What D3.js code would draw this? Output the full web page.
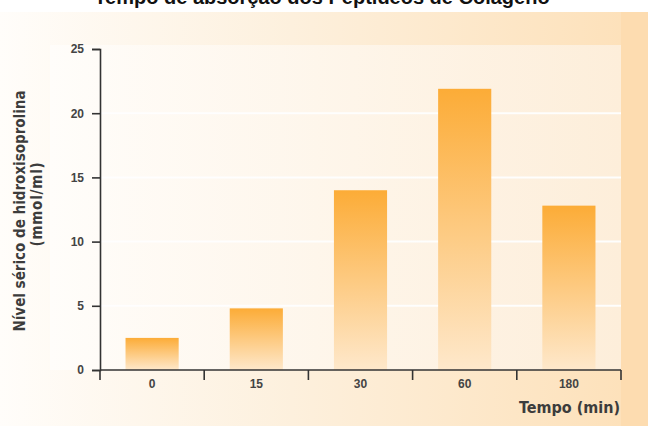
<!DOCTYPE html>
<html><head><meta charset="utf-8">
<script src="https://cdn.jsdelivr.net/npm/d3@7"></script>
<style>html,body{margin:0;padding:0;background:#fff;}svg{display:block;}</style>
</head><body>
<svg id="chart" width="648" height="426"></svg>
<script>
const categories = ["0", "15", "30", "60", "180"];
const values = [2.5, 4.8, 14.0, 21.9, 12.8];
const yTicks = [0, 5, 10, 15, 20, 25];
const gridValues = [5, 10, 15, 20];
const titleText = "Tempo de absorção dos Peptídeos de Colágeno";
const yLabel1 = "Nível sérico de hidroxisoprolina";
const yLabel2 = "(mmol/ml)";
const xLabel = "Tempo (min)";

(function(){
const W = 648, H = 426;
const pLeft = 100, pRight = 621, pTop = 49, pBottom = 370;
const svg = d3.select("#chart");
const defs = svg.append("defs");

const gOuter = defs.append("linearGradient").attr("id","gOuter").attr("x1","0").attr("x2","1").attr("y1","0").attr("y2","0");
gOuter.append("stop").attr("offset","0").attr("stop-color","#FFFDFA");
gOuter.append("stop").attr("offset","0.45").attr("stop-color","#FDF0DD");
gOuter.append("stop").attr("offset","1").attr("stop-color","#FDE0B8");
const gPanel = defs.append("linearGradient").attr("id","gPanel").attr("x1","0").attr("x2","1").attr("y1","0").attr("y2","0");
gPanel.append("stop").attr("offset","0").attr("stop-color","#FFFDFA");
gPanel.append("stop").attr("offset","1").attr("stop-color","#FDEEDA");
const gBar = defs.append("linearGradient").attr("id","gBar").attr("x1","0").attr("x2","0").attr("y1","0").attr("y2","1");
gBar.append("stop").attr("offset","0").attr("stop-color","#FCAC37");
gBar.append("stop").attr("offset","1").attr("stop-color","#FEE8CB");

// backgrounds
svg.append("rect").attr("x",0).attr("y",12).attr("width",W).attr("height",H-12).attr("fill","url(#gOuter)");
svg.append("rect").attr("x",621).attr("y",12).attr("width",W-621).attr("height",H-12).attr("fill","#FDDCB0");
svg.append("rect").attr("x",50).attr("y",45).attr("width",pRight-50).attr("height",pBottom-45).attr("fill","url(#gPanel)");

// title
svg.append("text").attr("x",322).attr("y",4).attr("text-anchor","middle")
  .attr("font-family","Liberation Sans, Arial, sans-serif").attr("font-weight","bold")
  .attr("font-size",20).attr("fill","#111").text(titleText);

const y = d3.scaleLinear().domain([0,25]).range([pBottom, pTop]);
const xSlot = d3.scaleBand().domain(categories).range([pLeft, pRight]).padding(0);
const xBar = d3.scaleBand().domain(categories).range([pLeft, pRight]).paddingInner(0.49).paddingOuter(0.245);

// grid
svg.append("g").selectAll("line").data(gridValues).join("line")
  .attr("x1",pLeft).attr("x2",pRight).attr("y1",d=>y(d)).attr("y2",d=>y(d))
  .attr("stroke","#fff").attr("stroke-width",2).attr("opacity",0.95);

// bars
svg.append("g").selectAll("rect").data(values).join("rect")
  .attr("x",(d,i)=>xBar(categories[i])).attr("width",xBar.bandwidth())
  .attr("y",d=>y(d)).attr("height",d=>y(0)-y(d)).attr("fill","url(#gBar)");

const axisColor = "#333";
// y axis
const yAxis = svg.append("g").attr("transform",`translate(${pLeft},0)`)
  .call(d3.axisLeft(y).tickValues(yTicks).tickSize(8).tickSizeOuter(8).tickPadding(8));
yAxis.selectAll("path,line").attr("stroke",axisColor).attr("stroke-width",1.6);
yAxis.selectAll("text").attr("font-family","Liberation Sans, Arial, sans-serif").attr("font-weight","bold")
  .attr("font-size",12).attr("fill","#444");

// x axis
const xAxis = svg.append("g").attr("transform",`translate(0,${pBottom})`)
  .call(d3.axisBottom(xSlot).tickSize(0).tickPadding(9));
xAxis.select(".domain").remove();
xAxis.selectAll("text").attr("font-family","Liberation Sans, Arial, sans-serif").attr("font-weight","bold")
  .attr("font-size",12).attr("fill","#444");
svg.append("line").attr("x1",pLeft).attr("x2",pRight).attr("y1",pBottom).attr("y2",pBottom)
  .attr("stroke",axisColor).attr("stroke-width",1.6);
const bounds = categories.map(c=>xSlot(c)).concat([xSlot(categories[categories.length-1])+xSlot.bandwidth()]);
svg.append("g").selectAll("line").data(bounds).join("line")
  .attr("x1",d=>d).attr("x2",d=>d).attr("y1",pBottom).attr("y2",pBottom+10)
  .attr("stroke",axisColor).attr("stroke-width",1.6);

// axis titles
svg.append("text").attr("transform","translate(25,211) rotate(-90)").attr("text-anchor","middle")
  .attr("font-family","DejaVu Sans Condensed, DejaVu Sans, sans-serif").attr("font-weight","bold")
  .attr("font-size",15).attr("fill","#3c3c3c").text(yLabel1);
svg.append("text").attr("transform","translate(42,204) rotate(-90)").attr("text-anchor","middle")
  .attr("font-family","DejaVu Sans Condensed, DejaVu Sans, sans-serif").attr("font-weight","bold")
  .attr("font-size",15).attr("letter-spacing",0.8).attr("fill","#3c3c3c").text(yLabel2);
svg.append("text").attr("x",620).attr("y",413).attr("text-anchor","end")
  .attr("font-family","DejaVu Sans Condensed, DejaVu Sans, sans-serif").attr("font-weight","bold")
  .attr("font-size",16).attr("fill","#3c3c3c").text(xLabel);
})();
</script>
</body></html>
